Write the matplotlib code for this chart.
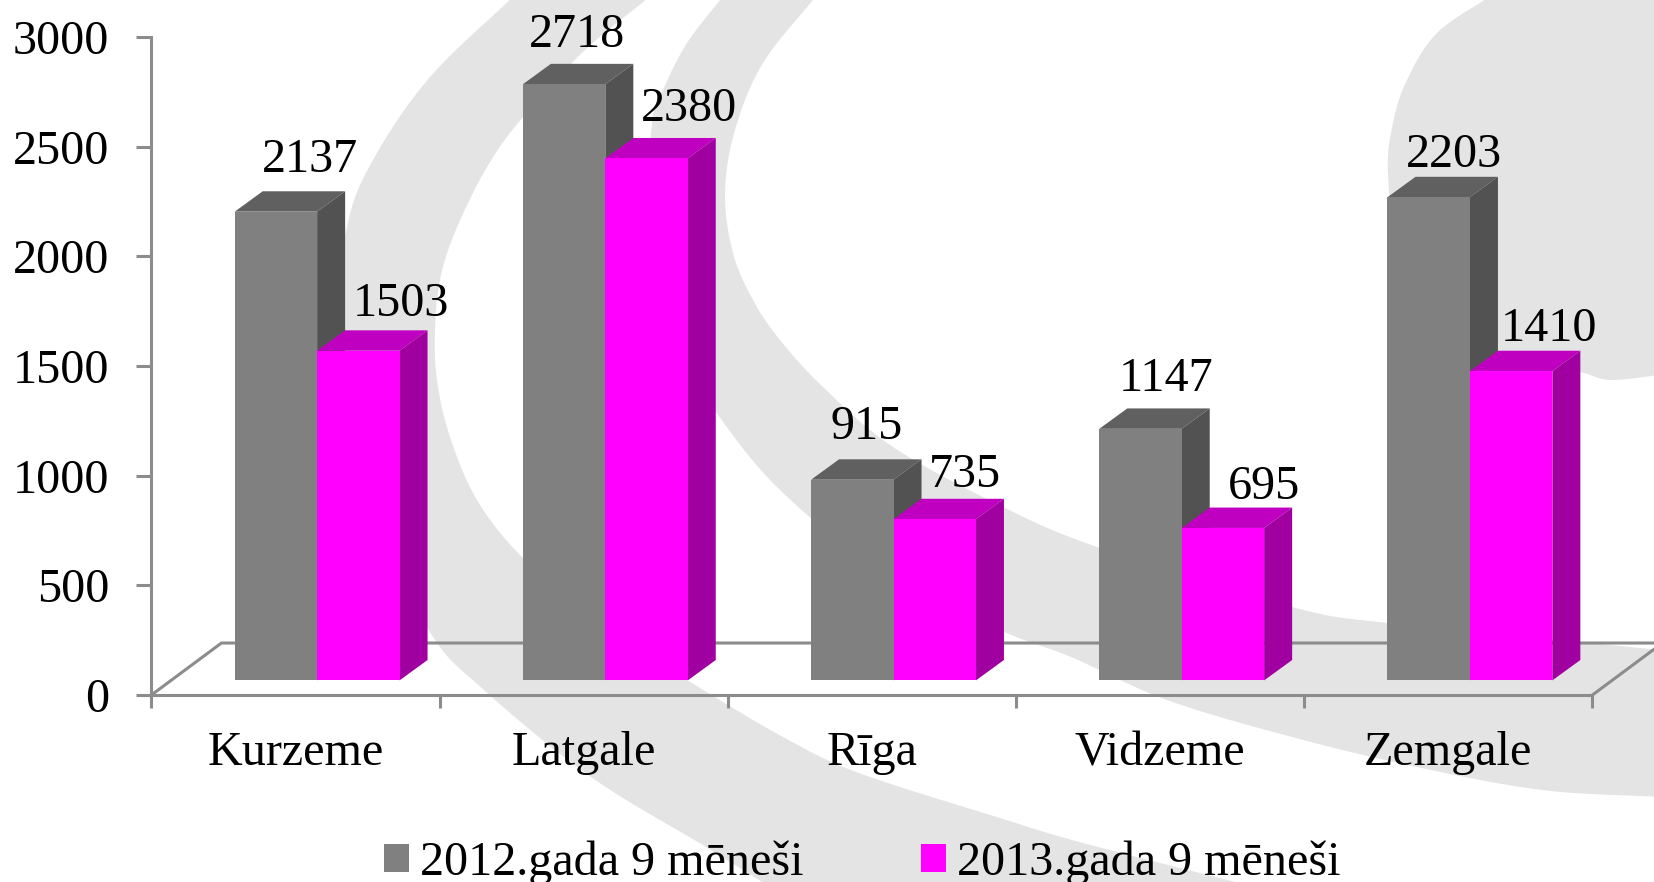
import numpy as np
import matplotlib
matplotlib.use('Agg')
import matplotlib.pyplot as plt
from matplotlib.patches import Polygon, Patch

plt.rcParams['font.family'] = ['Liberation Serif', 'DejaVu Sans']

regions = ['Kurzeme', 'Latgale', 'Rīga', 'Vidzeme', 'Zemgale']
values_2012 = [2137, 2718, 915, 1147, 2203]
values_2013 = [1503, 2380, 735, 695, 1410]
series_names = ['2012.gada 9 mēneši', '2013.gada 9 mēneši']
y_ticks = [0, 500, 1000, 1500, 2000, 2500, 3000]

# label offsets from the top of the front face, in pixels
offsets_2012 = [(34, 40), (13, 37), (14, 41), (26, 38), (25, 30)]
offsets_2013 = [(43, 35), (42, 37), (30, 32), (41, 29), (38, 30)]

W, H = 1654, 882
GRID = '#8c8c8c'
WATERMARK = '#e4e4e4'
FS = 34.7

bar_w = 0.286
bar_start = 0.289
base = 66.6          # bars stand a bit above the front edge of the floor
depth_x = 0.0972
depth_y = 93
floor_x = 0.243
floor_y = 237


def smooth(points, n=16):
    # catmull-rom through the outline points
    p = np.array(points, dtype=float)
    p = np.vstack([2 * p[0] - p[1], p, 2 * p[-1] - p[-2]])
    out = []
    for i in range(1, len(p) - 2):
        for t in np.linspace(0, 1, n, endpoint=False):
            out.append(0.5 * (2 * p[i] + (p[i + 1] - p[i - 1]) * t
                              + (2 * p[i - 1] - 5 * p[i] + 4 * p[i + 1] - p[i + 2]) * t ** 2
                              + (3 * p[i] - p[i - 1] - 3 * p[i + 1] + p[i + 2]) * t ** 3))
    out.append(p[-2])
    return np.array(out)


fig = plt.figure(figsize=(W / 100, H / 100), dpi=100, facecolor='white')

# background logo, pixel coordinates of the slide
bg = fig.add_axes([0, 0, 1, 1], zorder=0)
bg.set_xlim(0, W)
bg.set_ylim(H, 0)
bg.axis('off')

band_a_outer = [(515, -5), (430, 77), (373, 160), (347, 227), (335, 340), (362, 490),
                (428, 629), (484, 690), (591, 777), (706, 847), (770, 887)]
band_a_inner = [(652, -5), (585, 50), (523, 117), (487, 167), (455, 232), (440, 280),
                (435, 330), (437, 380), (450, 437), (477, 500), (522, 557), (600, 625),
                (687, 680), (783, 737), (859, 773), (1000, 818), (1083, 843), (1255, 887)]
band_b_outer = [(724, -5), (687, 43), (663, 90), (652, 123), (650, 220), (672, 340),
                (716, 412), (780, 490), (880, 570), (1000, 630), (1071, 657), (1167, 700),
                (1292, 737), (1417, 767), (1542, 790), (1660, 797)]
band_b_inner = [(817, -5), (763, 63), (735, 130), (725, 193), (733, 253), (753, 300),
                (780, 340), (823, 387), (893, 447), (1003, 507), (1100, 548), (1292, 607),
                (1387, 623), (1580, 642), (1660, 650)]
blob = [(1492, -5), (1437, 33), (1407, 80), (1393, 123), (1388, 173), (1400, 250), (1450, 320),
        (1520, 360), (1580, 372), (1610, 380), (1660, 375)]

a = np.vstack([smooth(band_a_outer), smooth(band_a_inner)[::-1]])
b = np.vstack([smooth(band_b_outer), smooth(band_b_inner)[::-1]])
c = np.vstack([smooth(blob), [(1660, -5)]])
for shape in [a, b, c]:
    bg.add_patch(Polygon(shape, closed=True, facecolor=WATERMARK, edgecolor='none'))

# main axes, 5 categories one unit wide
ax = fig.add_axes([151.4 / W, 1 - 695 / H, 1441 / W, 658 / H], zorder=1)
ax.patch.set_alpha(0)
ax.set_xlim(0, 5)
ax.set_ylim(0, 3000)

ax.spines['top'].set_visible(False)
ax.spines['right'].set_visible(False)
for s in ['left', 'bottom']:
    ax.spines[s].set_color(GRID)
    ax.spines[s].set_linewidth(2.2)

ax.set_yticks(y_ticks)
ax.tick_params(axis='y', length=10.8, width=2.2, color=GRID, pad=19.5, labelsize=FS)
ax.set_xticks(range(6))
ax.set_xticklabels([])
ax.set_xticks(np.arange(5) + 0.5, regions, minor=True)
ax.tick_params(axis='x', which='major', length=9.4, width=2.2, color=GRID)
ax.tick_params(axis='x', which='minor', length=0, pad=26, labelsize=FS)

# floor of the 3d box
ax.plot([0, floor_x, 5 + floor_x], [0, floor_y, floor_y], color=GRID, lw=2.2, clip_on=False, zorder=1)
ax.plot([5, 5 + floor_x], [0, floor_y], color=GRID, lw=2.2, clip_on=False, zorder=1)


def draw_series(values, start, front, top, side, offsets, z):
    x = np.arange(len(values)) + start
    ax.bar(x, values, bar_w, bottom=base, align='edge', color=front, clip_on=False, zorder=z + 0.2)
    for xi, v, off in zip(x, values, offsets):
        y1 = v + base
        ax.add_patch(Polygon([(xi, y1), (xi + bar_w, y1), (xi + bar_w + depth_x, y1 + depth_y),
                              (xi + depth_x, y1 + depth_y)],
                             facecolor=top, edgecolor='none', clip_on=False, zorder=z))
        ax.add_patch(Polygon([(xi + bar_w, base), (xi + bar_w, y1), (xi + bar_w + depth_x, y1 + depth_y),
                              (xi + bar_w + depth_x, base + depth_y)],
                             facecolor=side, edgecolor='none', clip_on=False, zorder=z))
        ax.annotate(str(v), xy=(xi + bar_w / 2, y1), xytext=off, textcoords='offset pixels',
                    ha='center', va='baseline', fontsize=FS, color='black', zorder=10,
                    annotation_clip=False)


draw_series(values_2012, bar_start, '#808080', '#606060', '#525252', offsets_2012, 3)
draw_series(values_2013, bar_start + bar_w, '#ff00ff', '#c000c0', '#a000a0', offsets_2013, 4)

handles = [Patch(facecolor='#808080', edgecolor='none'), Patch(facecolor='#ff00ff', edgecolor='none')]
fig.legend(handles, series_names, ncol=2, loc='lower left', bbox_to_anchor=(384 / W, -0.003),
           frameon=False, fontsize=FS, borderpad=0, borderaxespad=0, handlelength=0.52,
           handleheight=0.52, handletextpad=0.23, columnspacing=2.44)

fig.savefig('out.png', dpi=100)
